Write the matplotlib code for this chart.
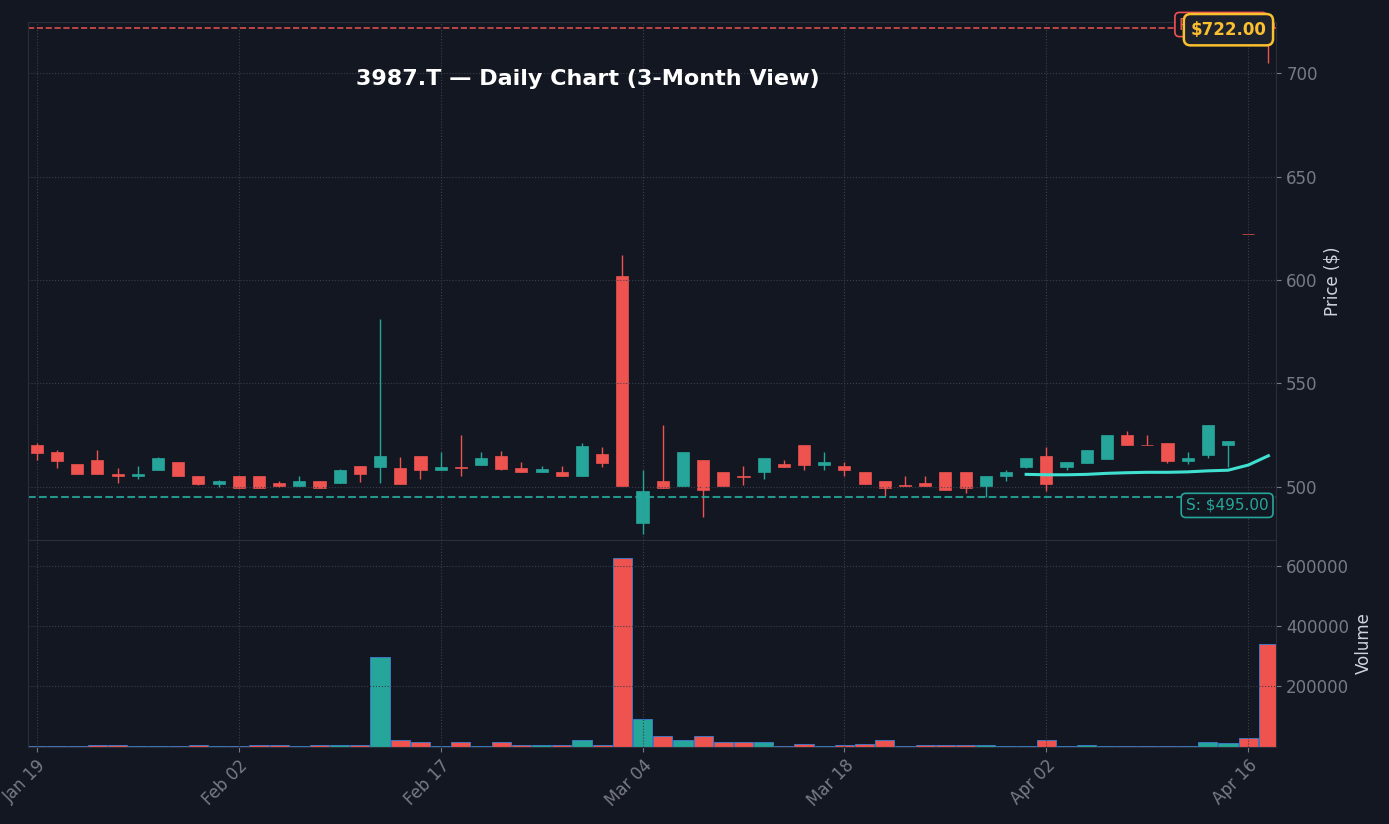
import numpy as np
import matplotlib
matplotlib.use("Agg")
import matplotlib.pyplot as plt

# ---- data ----
opens = [520, 517, 511, 513, 506, 505, 508, 512, 505, 501.5, 505, 505, 502, 500.5, 503,
         502, 510, 509.7, 509, 515, 508, 509, 510.5, 515, 509, 507, 507, 505, 516, 602,
         482.6, 503, 500.5, 513, 507, 505, 507, 511, 520, 510.6, 510, 507, 503, 501,
         502, 507, 507, 500.5, 505, 509.7, 515, 509.7, 511.6, 513.5, 525, 520, 521, 512.6,
         515.5, 520, 622, 735]
closes = [516.4, 512.6, 506, 506, 505, 506, 514, 505, 501.5, 503, 499.5, 499.5, 500.5, 503, 499.5,
          508, 506, 515, 501.5, 508, 509.5, 509, 514, 508.7, 507, 508.5, 505, 519.5, 511.5, 500.5,
          498, 499.5, 517, 498.5, 500.5, 504.5, 514, 509.7, 510.6, 512, 508, 501.5, 499.5, 500.5,
          500.5, 498.5, 499.5, 505, 507, 514, 501.5, 512, 518, 525, 520, 520, 512.6, 514,
          530, 522, 622, 722]
highs = [521, 518, 511, 518, 509, 510, 514.5, 512, 505, 503.5, 505, 505, 503, 505, 503,
         508.7, 510, 581, 514.5, 515, 517, 525, 517, 517.5, 512, 510, 510, 521, 519, 612,
         508, 530, 517, 513, 507, 510, 514, 513, 520, 517, 512, 507, 503, 505,
         505, 507, 507, 505, 508, 514, 519, 512, 518, 525, 527, 525, 521, 517,
         530, 522, 622, 740]
lows = [513, 509, 506, 506, 502, 504, 508, 505, 501, 500, 499.5, 499.5, 500, 500.5, 499.5,
        502, 502.5, 502, 501.5, 504, 508, 505, 510.5, 508, 507, 507, 505, 505, 509.7, 500.5,
        477, 499.5, 500.5, 485.5, 500.5, 501, 504, 509.7, 508, 508, 505, 501.5, 495.6, 500.5,
        500.5, 498.5, 497, 495, 503, 509, 498, 508, 511.6, 513.5, 520, 520, 511.6, 511,
        514, 509.7, 622, 705]
volumes = [3, 2, 2, 4, 4, 3, 3, 3, 4, 3, 2, 4, 4, 3, 4,
           4, 5, 296, 21, 15, 2, 15, 3, 15, 4, 4, 6, 21, 4, 626,
           91, 35, 21, 35, 15, 15, 15, 3, 8, 2, 5, 7, 21, 3,
           4, 4, 6, 4, 2, 3, 21, 2, 4, 2, 3, 2, 2, 3,
           15, 12, 28, 339]
volumes = [v * 1000 for v in volumes]
ma_start = 49
ma_vals = [506, 505.8, 505.8, 506, 506.5, 506.8, 507, 507, 507.2, 507.7, 508, 510.5, 515]
tick_pos = [0, 10, 20, 30, 40, 50, 60]
tick_labels = ["Jan 19", "Feb 02", "Feb 17", "Mar 04", "Mar 18", "Apr 02", "Apr 16"]
support = 495.0
resistance = 722.0

BG = "#131722"
UP = "#26a69a"
DOWN = "#ef5350"
GRID = "#2a2e39"
TXT = "#787b86"

fig = plt.figure(figsize=(13.89, 8.24), dpi=100, facecolor=BG)
ax = fig.add_axes([0.020, 0.345, 0.899, 0.628])
axv = fig.add_axes([0.020, 0.094, 0.899, 0.251], sharex=ax)

x = np.arange(len(opens))
for a in (ax, axv):
    a.set_facecolor(BG)
    a.grid(True, color="#3a3f4b", linestyle=":", linewidth=0.8)
    a.yaxis.tick_right()
    a.yaxis.set_label_position("right")
    a.tick_params(colors=TXT, labelsize=12)
    for s in a.spines.values():
        s.set_color(GRID)

for i in x:
    o, c, h, l = opens[i], closes[i], highs[i], lows[i]
    col = UP if c > o else DOWN
    ax.vlines(i, l, h, color=col, linewidth=1)
    body = max(abs(c - o), 0.4)
    ax.bar(i, body, bottom=min(o, c), width=0.6, color=col, edgecolor=col, linewidth=0.5)

ax.plot(np.arange(ma_start, ma_start + len(ma_vals)), ma_vals, color="#40e0d0", linewidth=2.2)
ax.axhline(support, color=UP, linestyle="--", linewidth=1.5, alpha=0.9)
ax.axhline(resistance, color=DOWN, linestyle="--", linewidth=1.2, alpha=0.9)
ax.text(61.0, support - 4, f"S: ${support:.2f}", color=UP, fontsize=11, ha="right", va="center",
        bbox=dict(boxstyle="round,pad=0.3", fc=BG, ec=UP, lw=1.2))
# resistance tag sits behind the last-price tag, only its frame peeks out
ax.text(60.7, resistance + 1.5, f"R: ${resistance:.2f}", color=DOWN, fontsize=11, ha="right",
        va="center", bbox=dict(boxstyle="round,pad=0.3", fc=BG, ec=DOWN, lw=1.2))
ax.text(60.9, closes[-1] - 1, f"${closes[-1]:.2f}", color="#fbc02d", fontsize=12, fontweight="bold",
        ha="right", va="center",
        bbox=dict(boxstyle="round,pad=0.4", fc="#1e222d", ec="#fbc02d", lw=1.8))
ax.text(27.3, 697, "3987.T — Daily Chart (3-Month View)", color="white", fontsize=16,
        fontweight="bold", ha="center", va="center")

ax.set_ylim(474.4, 724.6)
ax.set_yticks([500, 550, 600, 650, 700])
ax.set_ylabel("Price ($)", color="#d1d4dc", fontsize=12)
plt.setp(ax.get_xticklabels(), visible=False)

vcols = [UP if closes[i] > opens[i] else DOWN for i in x]
axv.bar(x, volumes, width=0.95, color=vcols, edgecolor="#3d7fd0", linewidth=0.6)
axv.set_ylim(0, 686000)
axv.set_yticks([200000, 400000, 600000])
axv.set_yticklabels(["200000", "400000", "600000"])
axv.set_ylabel("Volume", color="#d1d4dc", fontsize=12)
axv.set_xlim(-0.45, 61.4)
axv.set_xticks(tick_pos)
axv.set_xticklabels(tick_labels, rotation=45, ha="right", rotation_mode="anchor")

fig.savefig("out.png", dpi=100, facecolor=BG)
